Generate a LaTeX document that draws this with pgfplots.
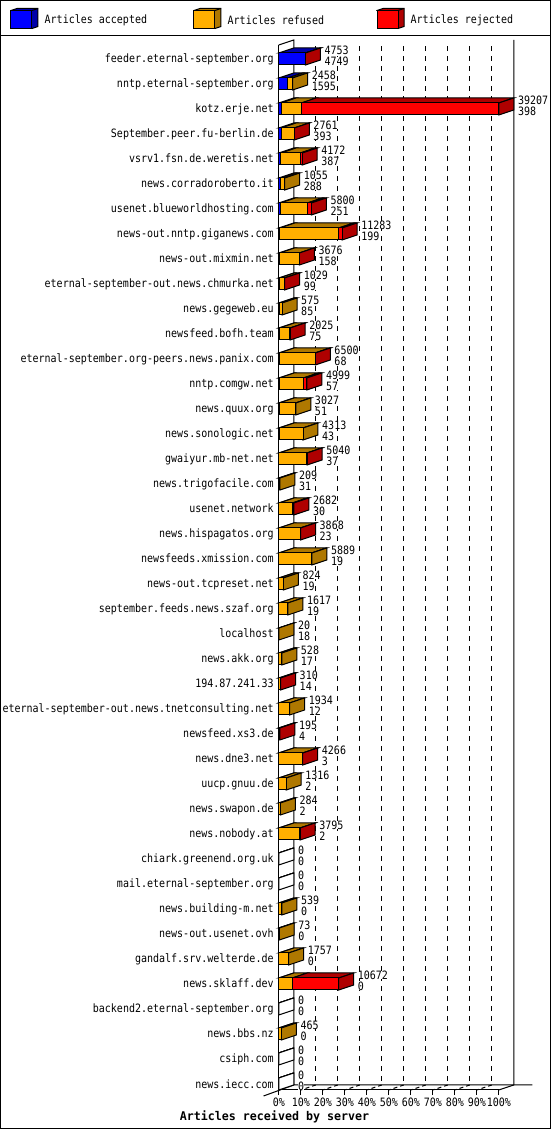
\documentclass[border=0pt]{standalone}
\usepackage{fontspec}
\setmainfont[FakeStretch=0.87]{DejaVu Sans Mono}
\newfontfamily\titlef[FakeStretch=0.97]{DejaVu Sans Mono}
\usepackage{pgfplots}
\usepackage{pgfplotstable}
\pgfplotsset{compat=1.18}

\definecolor{acc}{RGB}{0,0,255}
\definecolor{ref}{RGB}{255,175,0}
\definecolor{rej}{RGB}{255,0,0}
\definecolor{dacc}{RGB}{0,0,170}
\definecolor{dref}{RGB}{175,120,0}
\definecolor{drej}{RGB}{175,0,0}
\newcommand{\lab}{\fontsize{11.5}{13}\selectfont}

% widths in percent of the largest server, labels are the printed counts
\pgfplotstableread{
y  a     r     x     tot   cnt
42 12.11 0     0.01  4753  4749
41 4.07  2.20  0     2458  1595
40 1.02  9.16  89.82 39207 398
39 1.00  6.00  0.04  2761  393
38 0.99  8.74  0.91  4172  387
37 0.73  1.96  0     1055  288
36 0.64  12.26 1.89  5800  251
35 0.51  26.76 1.51  11283 199
34 0.40  8.90  0.08  3676  158
33 0.25  2.30  0.07  1029  99
32 0.22  1.25  0     575   85
31 0.19  4.90  0.07  2025  75
30 0.17  16.30 0.11  6500  68
29 0.15  10.94 1.66  4999  57
28 0.13  7.59  0     3027  51
27 0.11  10.89 0     4313  43
26 0.09  12.70 0.06  5040  37
25 0.08  0.45  0     209   31
24 0.08  6.01  0.75  2682  30
23 0.06  9.70  0.11  3868  23
22 0.05  14.97 0     5889  19
21 0.05  2.05  0     824   19
20 0.05  4.07  0     1617  19
19 0.05  0.01  0     20    18
18 0.04  1.31  0     528   17
17 0.04  0.70  0.05  310   14
16 0.03  4.90  0     1934  12
15 0.01  0.44  0.05  195   4
14 0.01  10.82 0.05  4266  3
13 0.01  3.35  0     1316  2
12 0.01  0.71  0     284   2
11 0.01  9.62  0.05  3795  2
10 0     0     0     0     0
9  0     0     0     0     0
8  0     1.37  0     539   0
7  0     0.19  0     73    0
6  0     4.48  0     1757  0
5  0     6.09  21.13 10672 0
4  0     0     0     0     0
3  0     1.19  0     465   0
2  0     0     0     0     0
1  0     0     0     0     0
}\bars

\newcommand{\poly}[2]{\edef\tmp{\noexpand\addplot[draw=black,line width=1pt,fill=#1] coordinates {#2} -- cycle;}\tmp}

\newcommand{\rowfaces}[1]{%
  \pgfplotstablegetelem{#1}{y}\of\bars \let\ry=\pgfplotsretval
  \pgfplotstablegetelem{#1}{a}\of\bars \let\va=\pgfplotsretval
  \pgfplotstablegetelem{#1}{r}\of\bars \let\vr=\pgfplotsretval
  \pgfplotstablegetelem{#1}{x}\of\bars \let\vx=\pgfplotsretval
  \pgfmathsetmacro\xa{\va}
  \pgfmathsetmacro\xb{\va+\vr}
  \pgfmathsetmacro\xc{\va+\vr+\vx}
  \pgfmathsetmacro\ya{\ry+0.24}
  \pgfmathsetmacro\yb{\ry+0.44}
  \pgfmathsetmacro\yc{\ry-0.24}
  \pgfmathsetmacro\yd{\ry-0.04}
  \pgfmathsetmacro\xal{6.818}
  \pgfmathsetmacro\xar{\xa+6.818}
  \pgfmathsetmacro\xbr{\xb+6.818}
  \pgfmathsetmacro\xcr{\xc+6.818}
  \def\sidecol{white}%
  \ifdim\xa pt>0pt \def\sidecol{dacc}\fi
  \ifdim\vr pt>0pt \def\sidecol{dref}\fi
  \ifdim\vx pt>0pt \def\sidecol{drej}\fi
  \poly{dacc}{(0,\ya)(\xa,\ya)(\xar,\yb)(\xal,\yb)}%
  \poly{dref}{(\xa,\ya)(\xb,\ya)(\xbr,\yb)(\xar,\yb)}%
  \poly{drej}{(\xb,\ya)(\xc,\ya)(\xcr,\yb)(\xbr,\yb)}%
  \poly{\sidecol}{(\xc,\ya)(\xcr,\yb)(\xcr,\yd)(\xc,\yc)}%
}

\begin{document}
\begin{tikzpicture}
\begin{axis}[
  scale only axis,width=220pt,height=1045pt,
  xmin=0,xmax=100,ymin=0.76,ymax=42.56,
  clip=false,
  axis x line=bottom,axis y line=left,
  axis line style={-,line width=1pt,black},
  tick align=outside,major tick length=5pt,
  x tick style={black,line width=1pt},
  y tick style={draw=none},
  xtick={0,10,...,100},
  xticklabels={0\%,10\%,20\%,30\%,40\%,50\%,60\%,70\%,80\%,90\%,100\%},
  ytick={42,41,40,39,38,37,36,35,34,33,32,31,30,29,28,27,26,25,24,23,22,21,20,19,18,17,16,15,14,13,12,11,10,9,8,7,6,5,4,3,2,1},
  yticklabels={feeder.eternal-september.org,nntp.eternal-september.org,kotz.erje.net,September.peer.fu-berlin.de,vsrv1.fsn.de.weretis.net,news.corradoroberto.it,usenet.blueworldhosting.com,news-out.nntp.giganews.com,news-out.mixmin.net,eternal-september-out.news.chmurka.net,news.gegeweb.eu,newsfeed.bofh.team,eternal-september.org-peers.news.panix.com,nntp.comgw.net,news.quux.org,news.sonologic.net,gwaiyur.mb-net.net,news.trigofacile.com,usenet.network,news.hispagatos.org,newsfeeds.xmission.com,news-out.tcpreset.net,september.feeds.news.szaf.org,localhost,news.akk.org,194.87.241.33,eternal-september-out.news.tnetconsulting.net,newsfeed.xs3.de,news.dne3.net,uucp.gnuu.de,news.swapon.de,news.nobody.at,chiark.greenend.org.uk,mail.eternal-september.org,news.building-m.net,news-out.usenet.ovh,gandalf.srv.welterde.de,news.sklaff.dev,backend2.eternal-september.org,news.bbs.nz,csiph.com,news.iecc.com},
  tick label style={font=\lab},
  yticklabel style={inner xsep=0pt,text height=10pt,text depth=2pt},
  xticklabel style={inner ysep=0pt,yshift=-3pt},
  xlabel={\titlef\bfseries Articles received by server},
  xlabel style={font=\fontsize{12}{13}\selectfont,at={(-0.0195,0)},anchor=center,yshift=-27pt},
]
% walls and floor
\addplot[black,line width=1pt] coordinates {(0,42.56)(6.818,42.76)(6.818,0.96)(115.3,0.96)};
\addplot[black,line width=1pt] coordinates {(106.818,42.76)(106.818,0.96)(100,0.76)};
\addplot[black,line width=1pt] coordinates {(-6.95,0.52)(6.818,0.96)};
\pgfplotsinvokeforeach{10,20,...,90}{
  \pgfmathsetmacro\bx{#1+6.818}
  \edef\tmp{\noexpand\addplot[black,line width=1pt,dash pattern=on 5pt off 5pt] coordinates {(\bx,42.5)(\bx,0.96)};
    \noexpand\addplot[black,line width=1pt,dash pattern=on 4pt off 3pt,dash phase=2pt] coordinates {(#1,0.76)(\bx,0.96)};}\tmp
}
% depth of the bars
\pgfplotsinvokeforeach{0,...,41}{\rowfaces{#1}}
% printed counts
\addplot[draw=none,nodes near coords,point meta=explicit symbolic,nodes near coords align={anchor=west},
  every node near coord/.append style={inner sep=0pt,fill=white,font=\lab}]
  table[x expr=\thisrow{a}+\thisrow{r}+\thisrow{x}+8.64,y expr=\thisrow{y}+0.36,meta=tot] {\bars};
\addplot[draw=none,nodes near coords,point meta=explicit symbolic,nodes near coords align={anchor=west},
  every node near coord/.append style={inner sep=0pt,fill=white,font=\lab}]
  table[x expr=\thisrow{a}+\thisrow{r}+\thisrow{x}+8.64,y expr=\thisrow{y}-0.08,meta=cnt] {\bars};
\end{axis}
% front faces of the stacked bars
\begin{axis}[
  scale only axis,width=220pt,height=1045pt,
  xmin=0,xmax=100,ymin=0.76,ymax=42.56,
  clip=false,hide axis,
  xbar stacked,bar width=12pt,
]
\addplot[draw=black,line width=1pt,fill=acc] table[x=a,y=y] {\bars};
\addplot[draw=black,line width=1pt,fill=ref] table[x=r,y=y] {\bars};
\addplot[draw=black,line width=1pt,fill=rej] table[x=x,y=y] {\bars};
\end{axis}
% frame and legend, in picture pixels from the top left
\begin{scope}[shift={(-278.3pt,1090pt)},x=1pt,y=-1pt]
\path (0,0) rectangle (550,1130);
\draw[line width=1pt] (0.5,0.5) rectangle (549.5,1128.5);
\draw[line width=1pt] (0,35.5) -- (550,35.5);
\foreach \bx/\c/\d/\t in {10.5/acc/dacc/accepted,193.5/ref/dref/refused,376.5/rej/drej/rejected}{
  \draw[line width=1pt,fill=\d] (\bx,10.5) -- (\bx+6,8.5) -- (\bx+27,8.5) -- (\bx+27,26.5) -- (\bx+21,28.5) -- cycle;
  \draw[line width=1pt,fill=\c] (\bx,10.5) rectangle (\bx+21,28.5);
  \draw[line width=1pt] (\bx+21,10.5) -- (\bx+27,8.5);
  \node[anchor=west,inner sep=0pt,font=\lab] at (\bx+33.5,20) {Articles \t};
}
\end{scope}
\end{tikzpicture}
\end{document}
